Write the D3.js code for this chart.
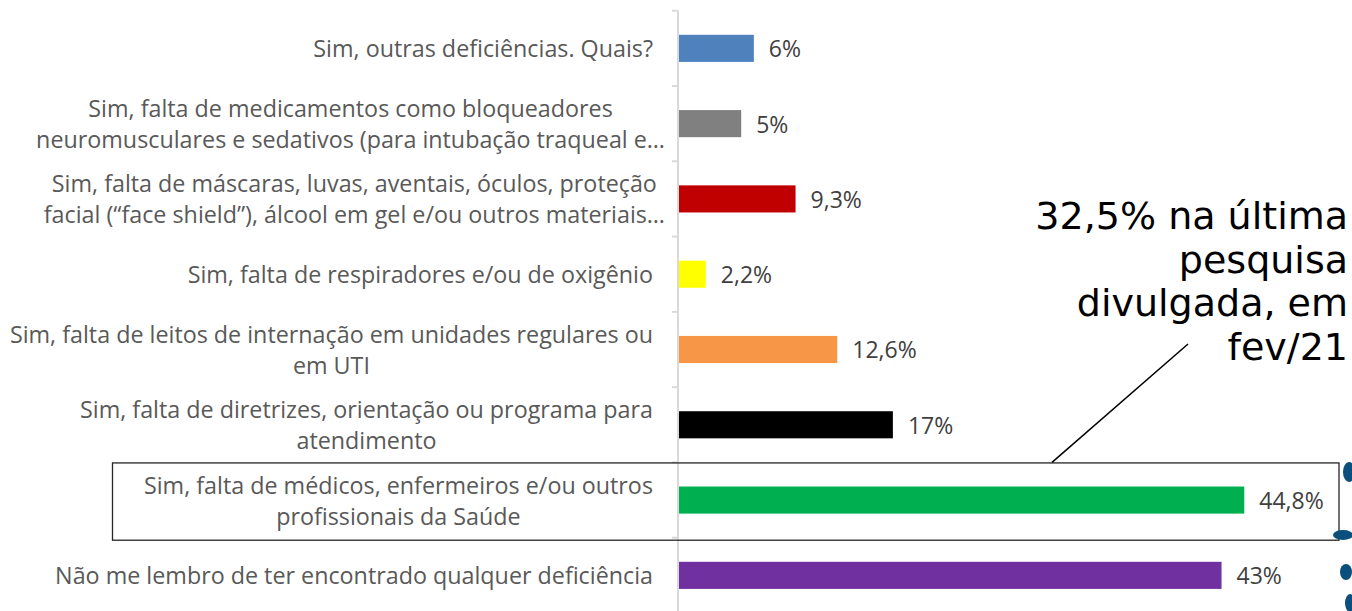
<!DOCTYPE html>
<html>
<head>
<meta charset="utf-8">
<script src="https://cdn.jsdelivr.net/npm/d3@7"></script>
<style>
  body { margin: 0; background: #fff; }
  svg { display: block; }
</style>
</head>
<body>
<svg id="chart" width="1352" height="611"></svg>
<script>
// categories (each label already split in the lines it shows)
var categories = [
    ["Sim, outras deficiências. Quais?"],
    ["Sim, falta de medicamentos como bloqueadores", "neuromusculares e sedativos (para intubação traqueal e…"],
    ["Sim, falta de máscaras, luvas, aventais, óculos, proteção", "facial (“face shield”), álcool em gel e/ou outros materiais…"],
    ["Sim, falta de respiradores e/ou de oxigênio"],
    ["Sim, falta de leitos de internação em unidades regulares ou", "em UTI"],
    ["Sim, falta de diretrizes, orientação ou programa para", "atendimento"],
    ["Sim, falta de médicos, enfermeiros e/ou outros", "profissionais da Saúde"],
    ["Não me lembro de ter encontrado qualquer deficiência"]
];
var values = [6, 5, 9.3, 2.2, 12.6, 17, 44.8, 43];
var valueLabels = ["6%", "5%", "9,3%", "2,2%", "12,6%", "17%", "44,8%", "43%"];
var barColors = ["#4F81BD", "#808080", "#C00000", "#FFFF00", "#F79646", "#000000", "#00B050", "#7030A0"];
var highlighted = 6;
var noteLines = ["32,5% na última", "pesquisa", "divulgada, em", "fev/21"];

var svg = d3.select("#chart");
var labelFont = "'Open Sans', 'Noto Sans', sans-serif";

var x = d3.scaleLinear().domain([0, 50]).range([678, 1310]);
var y = d3.scaleBand().domain(d3.range(categories.length)).range([10.7, 613]).padding(0);
var barH = y.bandwidth() * 0.36;

// axis line and ticks between categories
svg.append("line")
    .attr("x1", x(0)).attr("x2", x(0))
    .attr("y1", y.range()[0]).attr("y2", y.range()[1])
    .attr("stroke", "#D9D9D9").attr("stroke-width", 2);

var tickPos = d3.range(categories.length).map(function(i) { return y(i); });
svg.selectAll(".tick").data(tickPos).enter().append("line")
    .attr("x1", x(0) - 6).attr("x2", x(0))
    .attr("y1", function(d) { return d; }).attr("y2", function(d) { return d; })
    .attr("stroke", "#D9D9D9").attr("stroke-width", 2);

// bars
svg.selectAll(".bar").data(values).enter().append("rect")
    .attr("x", x(0) + 1)
    .attr("y", function(d, i) { return y(i) + (y.bandwidth() - barH) / 2; })
    .attr("width", function(d) { return x(d) - x(0) - 1; })
    .attr("height", barH)
    .attr("fill", function(d, i) { return barColors[i]; });

// value labels
svg.selectAll(".val").data(values).enter().append("text")
    .attr("x", function(d) { return x(d) + 15; })
    .attr("y", function(d, i) { return y(i) + y.bandwidth() / 2; })
    .attr("dominant-baseline", "central")
    .style("font-family", labelFont)
    .style("font-size", "23px")
    .attr("fill", "#404040")
    .text(function(d, i) { return valueLabels[i]; });

// category labels: centred lines, block right aligned next to the axis
// (truncated labels with "…" overhang a bit, like in excel)
categories.forEach(function(lines, i) {
    var cy = y(i) + y.bandwidth() / 2;
    var cut = lines.some(function(l) { return l.slice(-1) === "…"; });
    var labelRight = cut ? 665 : 653;
    var t = svg.append("text")
        .style("font-family", labelFont)
        .style("font-size", "23.3px")
        .attr("fill", "#595959")
        .attr("text-anchor", "middle");
    lines.forEach(function(l, j) {
        t.append("tspan")
            .attr("x", 0)
            .attr("y", cy + (j - (lines.length - 1) / 2) * 31)
            .attr("dominant-baseline", "central")
            .text(l);
    });
    var w = t.node().getBBox().width;
    t.selectAll("tspan").attr("x", labelRight - w / 2);
});

// box around the highlighted category
svg.append("rect")
    .attr("x", 112.5)
    .attr("y", y(highlighted) + 0.5)
    .attr("width", 1339 - 112.5)
    .attr("height", y.bandwidth() + 2)
    .attr("fill", "none")
    .attr("stroke", "#262626")
    .attr("stroke-width", 1.3);

// annotation
var note = svg.append("text")
    .attr("text-anchor", "end")
    .style("font-family", "'DejaVu Sans', Verdana, sans-serif")
    .style("font-size", "38px")
    .attr("fill", "#000");
noteLines.forEach(function(l, j) {
    note.append("tspan").attr("x", 1348).attr("y", 229 + j * 43.5).text(l);
});

svg.append("line")
    .attr("x1", 1052).attr("y1", y(highlighted))
    .attr("x2", 1188).attr("y2", 344)
    .attr("stroke", "#000").attr("stroke-width", 1.5);

// bits of the virus picture at the right edge
var blobs = [[1349, 472, 6, 10], [1343, 535, 10, 5], [1346, 572, 6, 8], [1350, 603, 5, 9]];
svg.selectAll(".blob").data(blobs).enter().append("ellipse")
    .attr("cx", function(d) { return d[0]; })
    .attr("cy", function(d) { return d[1]; })
    .attr("rx", function(d) { return d[2]; })
    .attr("ry", function(d) { return d[3]; })
    .attr("fill", "#0B4F7C");
</script>
</body>
</html>
